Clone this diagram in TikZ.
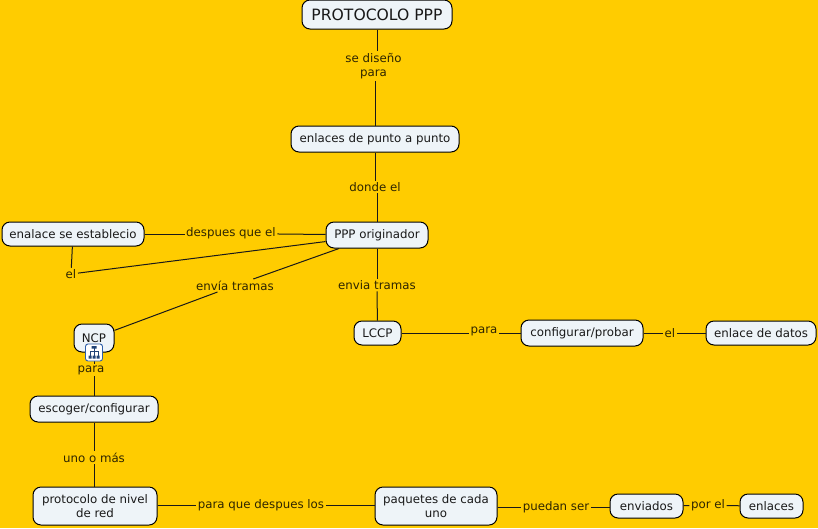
\documentclass[tikz,border=0pt]{standalone}
\usepackage{fontspec}
\setmainfont{DejaVu Sans}
\definecolor{mapback}{HTML}{FFCC00}
\definecolor{boxfill}{HTML}{EEF4F8}
\definecolor{wordcolor}{HTML}{2E2500}
\definecolor{iconblue}{HTML}{2F5FA8}
\tikzset{
  concept/.style={draw=black, fill=boxfill, rounded corners=8pt, line width=1pt,
               minimum height=24pt, inner sep=0pt, font=\fontsize{11.8}{14.5}\selectfont,
               align=center, text=black!90},
  linkword/.style={inner sep=1.5pt, font=\fontsize{11.8}{14.5}\selectfont, align=center, text=wordcolor},
  linkline/.style={draw=black!90, line width=1pt},
}
\begin{document}
\begin{tikzpicture}[x=1pt, y=-1pt]
    \fill[mapback] (0,0) rectangle (818,528);
    \useasboundingbox (0,0) rectangle (818,528);
    % concepts
    \node[concept, minimum width=150pt, minimum height=29pt, font=\fontsize{15.6}{18}\selectfont] (protocolo) at (377,14.5) {PROTOCOLO PPP};
    \node[concept, minimum width=168pt, minimum height=26pt] (enlacespunto) at (375,139) {enlaces de punto a punto};
    \node[concept, minimum width=102pt, minimum height=26pt] (originador) at (377,235) {PPP originador};
    \node[concept, minimum width=142pt] (establecio) at (73,234) {enalace se establecio};
    \node[concept, minimum width=47pt] (lccp) at (377.5,333) {LCCP};
    \node[concept, minimum width=122pt, minimum height=26pt] (configurar) at (582,333) {configurar/probar};
    \node[concept, minimum width=110pt] (enlacedatos) at (761,333) {enlace de datos};
    \node[concept, minimum width=40pt, minimum height=28pt] (ncp) at (94,338) {NCP};
    \node[concept, minimum width=128pt, minimum height=26pt] (escoger) at (94,409) {escoger/configurar};
    \node[concept, minimum width=124pt, minimum height=38pt] (nivelred) at (95,506) {protocolo de nivel\\de red};
    \node[concept, minimum width=122pt, minimum height=38pt] (paquetes) at (436,506) {paquetes de cada\\uno};
    \node[concept, minimum width=73pt] (enviados) at (646.5,506) {enviados};
    \node[concept, minimum width=63pt] (enlaces) at (771.5,506) {enlaces};
    % link words
    \node[linkword] (disenio) at (373.5,66) {se diseño\\para};
    \node[linkword] (donde) at (375,187) {donde el};
    \node[linkword] (despues) at (231,233.5) {despues que el};
    \node[linkword] (el) at (71,274) {el};
    \node[linkword] (enviaizq) at (235,285.5) {envía tramas};
    \node[linkword] (enviader) at (377,285) {envia tramas};
    \node[linkword] (parauno) at (484,331) {para};
    \node[linkword] (eluno) at (670,333) {el};
    \node[linkword] (parados) at (91,370) {para};
    \node[linkword] (unomas) at (94,457.5) {uno o más};
    \node[linkword] (despueslos) at (261,505.5) {para que despues los};
    \node[linkword] (puedan) at (556,507) {puedan ser};
    \node[linkword] (porel) at (708,505.5) {por el};
    % connectors
    \draw[linkline] (protocolo) -- (disenio.north -| protocolo);
    \draw[linkline] (disenio.south -| enlacespunto) -- (enlacespunto);
    \draw[linkline] (enlacespunto) -- (donde.north -| enlacespunto);
    \draw[linkline] (donde.south -| originador) -- (originador);
    \draw[linkline] (establecio) -- (despues.west |- establecio);
    \draw[linkline] (despues) -- (originador);
    \draw[linkline] (establecio) -- (el);
    \draw[linkline] (el) -- (originador);
    \draw[linkline] (originador) -- (enviaizq);
    \draw[linkline] (enviaizq) -- (ncp);
    \draw[linkline] (originador) -- (enviader);
    \draw[linkline] (enviader) -- (lccp);
    \draw[linkline] (lccp) -- (parauno.west |- lccp);
    \draw[linkline] (parauno.east |- configurar) -- (configurar);
    \draw[linkline] (configurar) -- (eluno);
    \draw[linkline] (eluno) -- (enlacedatos);
    \draw[linkline] (ncp) -- (parados.north -| ncp);
    \draw[linkline] (parados.south -| escoger) -- (escoger);
    \draw[linkline] (escoger) -- (unomas);
    \draw[linkline] (unomas) -- (nivelred.north -| unomas);
    \draw[linkline] (nivelred.east |- despueslos) -- (despueslos);
    \draw[linkline] (despueslos) -- (paquetes.west |- despueslos);
    \draw[linkline] (paquetes.east |- puedan) -- (puedan);
    \draw[linkline] (puedan) -- (enviados.west |- puedan);
    \draw[linkline] (enviados) -- (porel);
    \draw[linkline] (porel) -- (enlaces);
    % icon on NCP
    \node[draw=iconblue, fill=white, rounded corners=2.5pt, line width=0.9pt, minimum size=17pt, inner sep=0pt] (ncpicon) at (94,352.5) {};
    \draw[iconblue!70!black, line width=0.7pt] (94,347) -- (94,357) (90,351) -- (98,351) (90,351) -- (90,357) (98,351) -- (98,357);
    \fill[iconblue!70!black] (91.5,346) rectangle (96.5,348.5) (88.5,355.5) rectangle (91.5,358.5) (92.5,355.5) rectangle (95.5,358.5) (96.5,355.5) rectangle (99.5,358.5);
  \end{tikzpicture}
\end{document}
